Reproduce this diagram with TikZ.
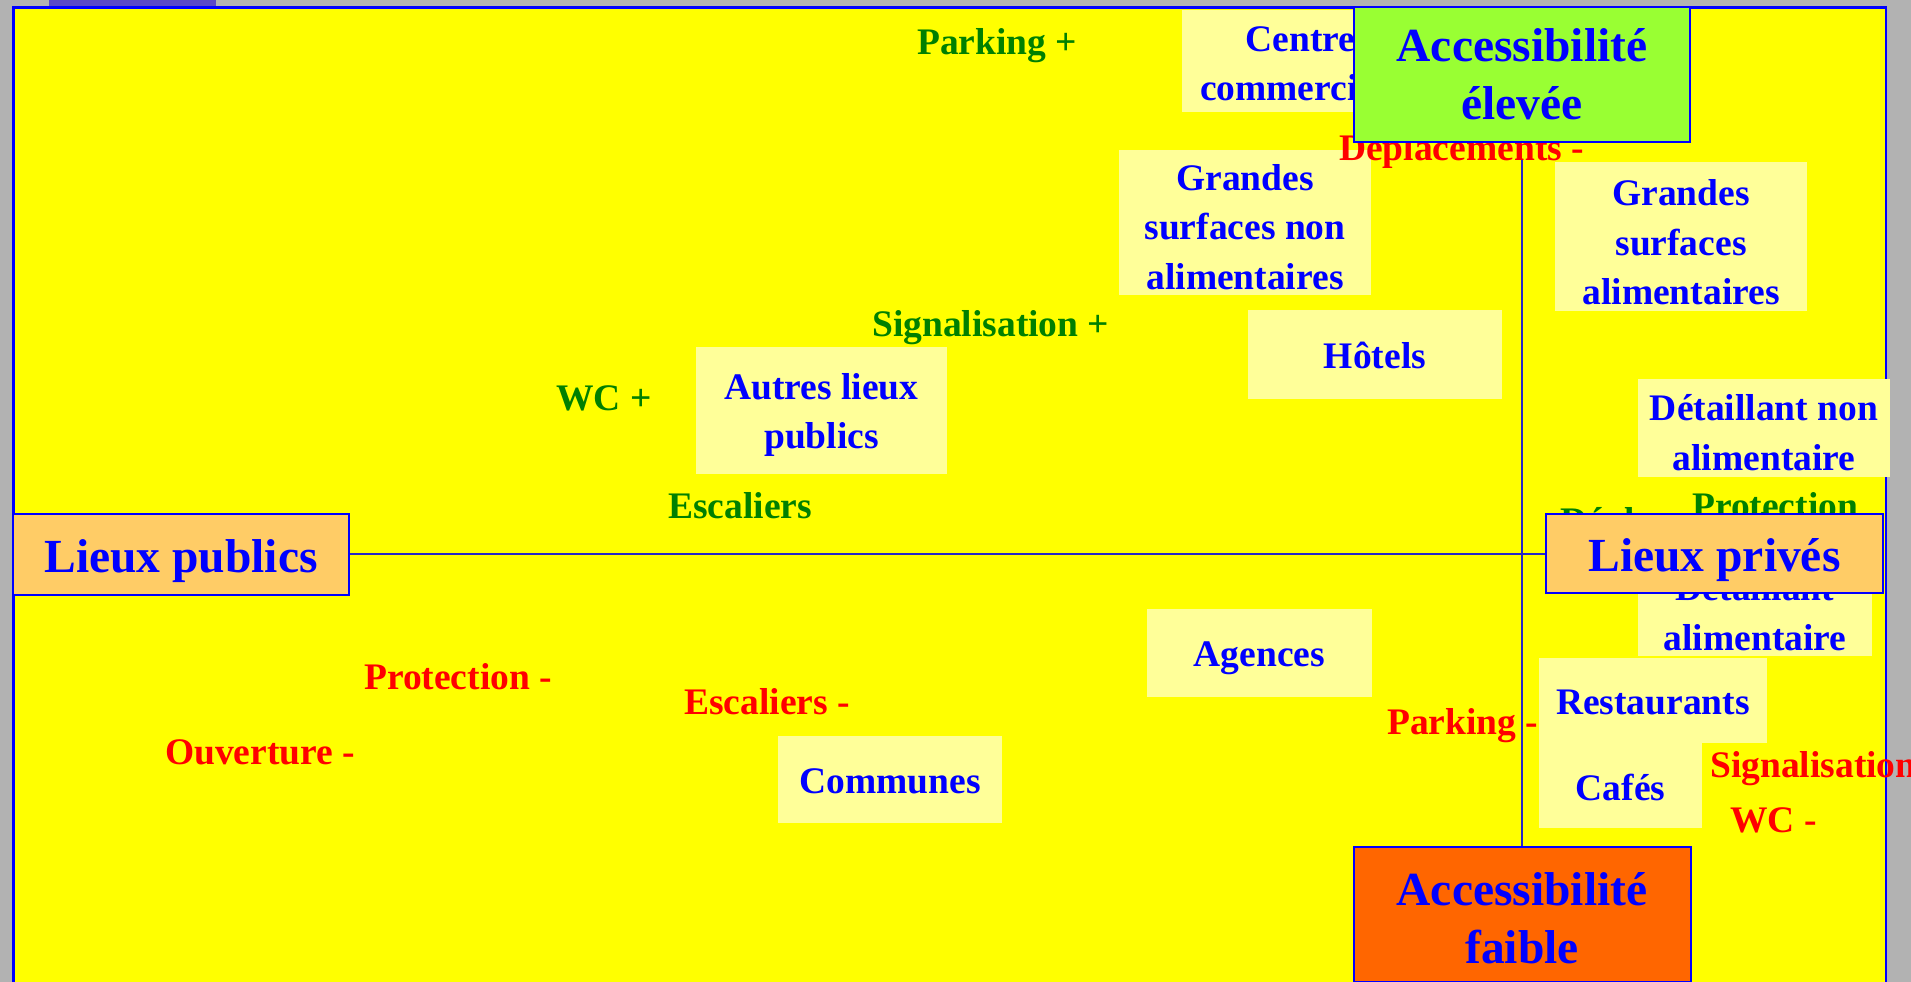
\documentclass[tikz,border=0pt]{standalone}
\usepackage{fontspec}
\setmainfont{Liberation Serif}
\definecolor{bggray}{RGB}{178,178,178}
\definecolor{tabc}{RGB}{90,72,200}
\definecolor{pyellow}{RGB}{255,255,0}
\definecolor{lyel}{RGB}{255,255,153}
\definecolor{pgreen}{RGB}{0,128,0}
\definecolor{pred}{RGB}{255,0,0}
\definecolor{pblue}{RGB}{0,0,255}
\definecolor{limec}{RGB}{153,255,51}
\definecolor{lorange}{RGB}{255,204,102}
\definecolor{dorange}{RGB}{255,102,0}
\definecolor{axisc}{RGB}{40,40,200}
\pgfdeclarelayer{bg}
\pgfdeclarelayer{lines}
\pgfsetlayers{bg,lines,main}
\newcommand{\tpad}[1]{\rule{0pt}{#1pt}}
\tikzset{
  lbl/.style={font=\fontsize{37.5}{49.5}\selectfont\bfseries, inner sep=0pt, anchor=base west},
  plus/.style={lbl, text=pgreen},
  minus/.style={lbl, text=pred},
  cat/.style={fill=lyel, inner sep=0pt, font=\fontsize{37.5}{49.5}\selectfont\bfseries, text=pblue, align=center},
  cat1/.style={fill=lyel, inner sep=0pt, font=\fontsize{37.5}{49.5}\selectfont\bfseries, text=pblue, text height=27pt, text depth=0pt},
  big/.style={draw=pblue, line width=2pt, inner sep=0pt, font=\fontsize{47.5}{58}\selectfont\bfseries, text=pblue},
  axis/.style={draw=axisc, line width=1.3pt}
}
\begin{document}
\begin{tikzpicture}[x=1pt,y=-1pt]
\useasboundingbox (0,0) rectangle (1911,982);
\begin{pgfonlayer}{bg}
\fill[bggray] (0,0) rectangle (1911,982);
\fill[tabc] (49,0) rectangle (216,6);
\draw[draw=pblue, fill=pyellow, line width=2.5pt] (13.5,7.5) rectangle (1886,1000);
\end{pgfonlayer}

% labels
\node[plus] (pkp) at (917,55) {Parking +};
\node[plus] (sgp) at (872,336) {Signalisation +};
\node[plus] (wcp) at (556,410) {WC +};
\node[plus] (esp) at (668,518) {Escaliers};
\node[plus] (prp) at (1692,518) {Protection};
\node[plus] (dpp) at (1560,533) {Déplacements +};
\node[minus] (prm) at (364,689) {Protection -};
\node[minus] (ouv) at (165,764) {Ouverture -};
\node[minus] (esm) at (684,714) {Escaliers -};
\node[minus] (pkm) at (1387,734) {Parking -};
\node[minus] (sgm) at (1710,777) {Signalisation -};
\node[minus] (wcm) at (1730,832) {WC -};

% category boxes
\node[cat, minimum width=252pt, minimum height=102pt] (cc) at (1308,61) {\tpad{30}Centres\\commerciaux};
\node[cat, minimum width=252pt, minimum height=145pt] (gsna) at (1245,222.5) {\tpad{35}Grandes\\surfaces non\\alimentaires};
\node[cat, minimum width=252pt, minimum height=149pt] (gsa) at (1681,236.5) {\tpad{38}Grandes\\surfaces\\alimentaires};
\node[cat1, minimum width=254pt, minimum height=89pt] (hot) at (1375,354.5) {Hôtels};
\node[cat, minimum width=251pt, minimum height=127pt] (alp) at (821.5,410.5) {\tpad{35}Autres lieux\\publics};
\node[cat, minimum width=252pt, minimum height=98pt] (dna) at (1764,428) {\tpad{35.5}Détaillant non\\alimentaire};
\node[cat, minimum width=234pt, minimum height=98pt] (da) at (1755,607) {\tpad{37}Détaillant\\alimentaire};
\node[cat1, minimum width=228pt, minimum height=85pt] (rest) at (1653,700.5) {Restaurants};
\node[cat1, minimum width=163pt, minimum height=85pt, text height=29pt] (caf) at (1620.5,785.5) {Cafés};
\node[cat1, minimum width=225pt, minimum height=88pt] (ag) at (1259.5,653) {Agences};
\node[cat1, minimum width=224pt, minimum height=87pt] (com) at (890,779.5) {Communes};

% label in front of the boxes
\node[minus] (dpm) at (1339,160) {Déplacements -};

% axis boxes
\node[big, fill=lorange, minimum width=336pt, minimum height=81pt, text height=37pt, text depth=0pt] (lp) at (181,554) {Lieux publics};
\node[big, fill=lorange, minimum width=337pt, minimum height=79pt, text height=36pt, text depth=0pt] (lpr) at (1714.5,553) {Lieux privés};
\node[big, fill=limec, align=center, minimum width=336pt, minimum height=135pt] (ae) at (1522,74.5) {Accessibilité\\élevée};
\node[big, fill=dorange, align=center, minimum width=337pt, minimum height=135pt] (af) at (1522,914.5) {\tpad{41}Accessibilité\\faible};

\begin{pgfonlayer}{lines}
\draw[axis] (lp.east) -- (lp.east -| lpr.west);
\draw[axis] (dpm.base -| ae.south) -- (af.north);
\end{pgfonlayer}
\end{tikzpicture}
\end{document}
